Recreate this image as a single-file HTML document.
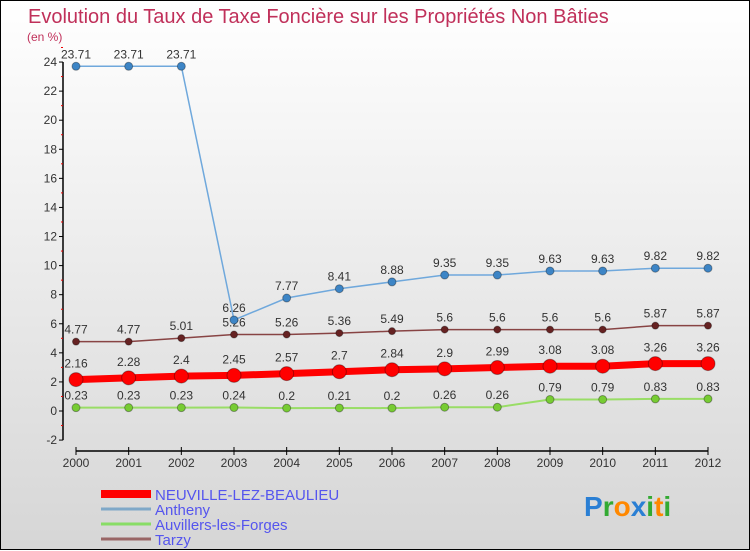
<!DOCTYPE html>
<html><head><meta charset="utf-8"><style>
html,body{margin:0;padding:0}
body{width:750px;height:550px;overflow:hidden;font-family:"Liberation Sans",sans-serif}
#wrap{position:relative;width:748px;height:548px;border:1px solid #000;background:linear-gradient(#ffffff,#d6d6d6)}
svg{position:absolute;left:0;top:0}
</style></head><body>
<div id="wrap">
<svg id="c" width="750" height="550">
<text x="27" y="22" font-size="20" fill="#c0305a">Evolution du Taux de Taxe Foncière sur les Propriétés Non Bâties</text>
<text x="26" y="40" font-size="12" fill="#c0305a">(en %)</text>
</svg>
</div>
<script>
const years=["2000","2001","2002","2003","2004","2005","2006","2007","2008","2009","2010","2011","2012"];
const neuville=[2.16,2.28,2.4,2.45,2.57,2.7,2.84,2.9,2.99,3.08,3.08,3.26,3.26];
const antheny=[23.71,23.71,23.71,6.26,7.77,8.41,8.88,9.35,9.35,9.63,9.63,9.82,9.82];
const auvillers=[0.23,0.23,0.23,0.24,0.2,0.21,0.2,0.26,0.26,0.79,0.79,0.83,0.83];
const tarzy=[4.77,4.77,5.01,5.26,5.26,5.36,5.49,5.6,5.6,5.6,5.6,5.87,5.87];
const yTicks=[-2,0,2,4,6,8,10,12,14,16,18,20,22,24];
const seriesNames=["NEUVILLE-LEZ-BEAULIEU","Antheny","Auvillers-les-Forges","Tarzy"];

const svg=document.getElementById('c');const NS="http://www.w3.org/2000/svg";
const X=i=>75+i*(632/(years.length-1));
const Y=v=>410-v*14.54;
function mk(t,a,p){const e=document.createElementNS(NS,t);for(const k in a)e.setAttribute(k,a[k]);(p||svg).appendChild(e);return e;}
const fmt=v=>String(v);
let ya=mk('line',{x1:62,y1:Y(24),x2:62,y2:Y(-2),stroke:'#000','stroke-width':1.5});


yTicks.forEach(t=>{
 mk('line',{x1:58,y1:Y(t),x2:62,y2:Y(t),stroke:'#000'});
 mk('line',{x1:60,y1:Y(t+1),x2:62,y2:Y(t+1),stroke:'#e00'});
 const tx=mk('text',{x:56,y:Y(t)+4,'font-size':12,fill:'#333','text-anchor':'end'});tx.textContent=t;
 
 
});
let xa=mk('line',{x1:X(0),y1:450,x2:X(12),y2:450,stroke:'#000','stroke-width':1.5});


years.forEach((y,i)=>{
 mk('line',{x1:X(i),y1:446,x2:X(i),y2:454,stroke:'#000'});
 const tx=mk('text',{x:X(i),y:466,'font-size':12,fill:'#333','text-anchor':'middle'});tx.textContent=y;
 
 
});
function series(data,color,dot,w,r,name,labelOff){
 const g=mk('g',{});
 
 
 mk('polyline',{points:data.map((v,i)=>X(i)+','+Y(v)).join(' '),fill:'none',stroke:color,'stroke-width':w},g);
 data.forEach((v,i)=>{
  const c=mk('circle',{cx:X(i),cy:Y(v),r:r,fill:dot,stroke:'#00000055'},g);
  
  
  const t=mk('text',{x:X(i),y:Y(v)-labelOff,'font-size':12,fill:'#333','text-anchor':'middle'},g);t.textContent=fmt(v);
 });
}
series(auvillers,'#99dd66','#77cc33',2,4,'series-auvillers',8);
series(tarzy,'#884444','#662222',1.5,3.5,'series-tarzy',8);
series(antheny,'#6fa8dc','#3d85c6',1.5,4,'series-antheny',8);
series(neuville,'#ff0000','#ff0000',7,7,'series-neuville',12);
const lc=['#ff0000','#7fa8c8','#88dd66','#996666'],lw=[8,3,3,3];
seriesNames.forEach((n,i)=>{
 const y=493+i*15;
 const g=mk('g',{});
 
 
 mk('line',{x1:100,y1:y,x2:150,y2:y,stroke:lc[i],'stroke-width':lw[i]},g);
 const t=mk('text',{x:154,y:y+6,'font-size':15,fill:'#5555ee'},g);t.textContent=n;
});
const logo=mk('text',{x:583,y:515,'font-size':28,'font-weight':'bold'});


[['P','#2a7fd4'],['r','#33aa33'],['o','#ff8800'],['x','#2a7fd4'],['i','#33aa33'],['t','#ff8800'],['i','#33aa33']].forEach(([c,f])=>{const s=mk('tspan',{fill:f},logo);s.textContent=c;});
</script>
</body></html>
